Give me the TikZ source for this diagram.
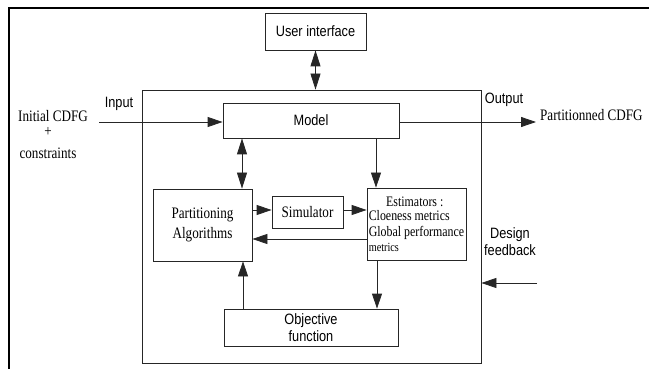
\documentclass[tikz,border=0pt]{standalone}
\usepackage{fontspec}
\setmainfont{Liberation Serif}[FakeStretch=0.82]
\newfontfamily\labelfont{Liberation Sans}[FakeStretch=0.85]
\usetikzlibrary{arrows.meta}

\begin{document}
\begin{tikzpicture}[x=1pt, y=-1pt,
    box/.style={draw=lineColour, line width=0.8pt, inner sep=1pt},
    arr/.style={draw=lineColour, line width=0.8pt, -{Triangle[length=15pt,width=10pt]}},
    dblarr/.style={draw=lineColour, line width=0.8pt, {Triangle[length=16pt,width=10pt]}-{Triangle[length=16pt,width=10pt]}},
    sans/.style={font=\labelfont\fontsize{15}{16.5}\selectfont},
    serif/.style={font=\fontsize{16}{20}\selectfont}]
    % Define colours
    \definecolor{lineColour}{HTML}{262626}
    \definecolor{borderColour}{HTML}{000000}

    % Fix picture size
    \useasboundingbox (0,0) rectangle (649,369);

    % Draw page border
    \draw[borderColour, line width=2.5pt] (9,369) -- (9,8) -- (649,8);

    % Blocks
    \node[box, minimum width=339pt, minimum height=273pt] (frame) at (311.5,226.5) {};
    \node[box, sans, minimum width=101pt, minimum height=37pt] (ui) at (315.5,31.5) {User interface};
    \node[box, sans, minimum width=176pt, minimum height=35pt] (model) at (311,120.5) {Model};
    \node[box, serif, align=center, minimum width=99pt, minimum height=72pt] (part) at (202.5,225) {Partitioning\\Algorithms};
    \node[box, serif, minimum width=71pt, minimum height=32pt] (sim) at (307.5,212) {Simulator};
    \node[box, font=\fontsize{14.5}{14.5}\selectfont, align=left, minimum width=99pt, minimum height=72pt] (est) at (416.5,224)
        {\makebox[92pt][c]{Estimators :}\\Cloeness metrics\\[1.5pt]Global performance\\{\fontsize{12.5}{12.5}\selectfont metrics}};
    \node[box, sans, align=center, minimum width=174pt, minimum height=37pt] (obj) at (311,327.5) {Objective\\function};

    % Outside labels
    \node[sans, anchor=base] (inLabel) at (119,108) {Input};
    \node[sans, anchor=base] (outLabel) at (504,104) {Output};
    \node[serif, anchor=base] (initial) at (53,122) {Initial CDFG};
    \node[serif] (plus) at (48,132) {+};
    \node[serif, anchor=base] (constr) at (48,159) {constraints};
    \node[serif, anchor=base west, inner sep=0pt] (result) at (540,121) {Partitionned CDFG};
    \node[sans, align=center, anchor=base] (fbLabel) at (510,255) {Design\\feedback};

    % Free ends
    \coordinate (inStart) at (99,122);
    \coordinate (outEnd) at (536,122);
    \coordinate (fbStart) at (537,283);

    % Draw connectors
    \draw[dblarr] (ui.south) -- (ui.south |- frame.north);
    \draw[arr] (inStart) -- (inStart -| model.west);
    \draw[arr] (model.east |- outEnd) -- (outEnd);
    \draw[dblarr] (model.south -| 242,0) -- (part.north -| 242,0);
    \draw[arr] (model.south -| 376,0) -- (est.north -| 376,0);
    \draw[arr] (part.east |- 0,210) -- (sim.west |- 0,210);
    \draw[arr] (sim.east |- 0,210) -- (est.west |- 0,210);
    \draw[arr] (est.west |- 0,239) -- (part.east |- 0,239);
    \draw[arr] (obj.north -| 243,0) -- (part.south -| 243,0);
    \draw[arr] (est.south -| 377,0) -- (obj.north -| 377,0);
    \draw[arr] (fbStart) -- (fbStart -| frame.east);

\end{tikzpicture}
\end{document}
